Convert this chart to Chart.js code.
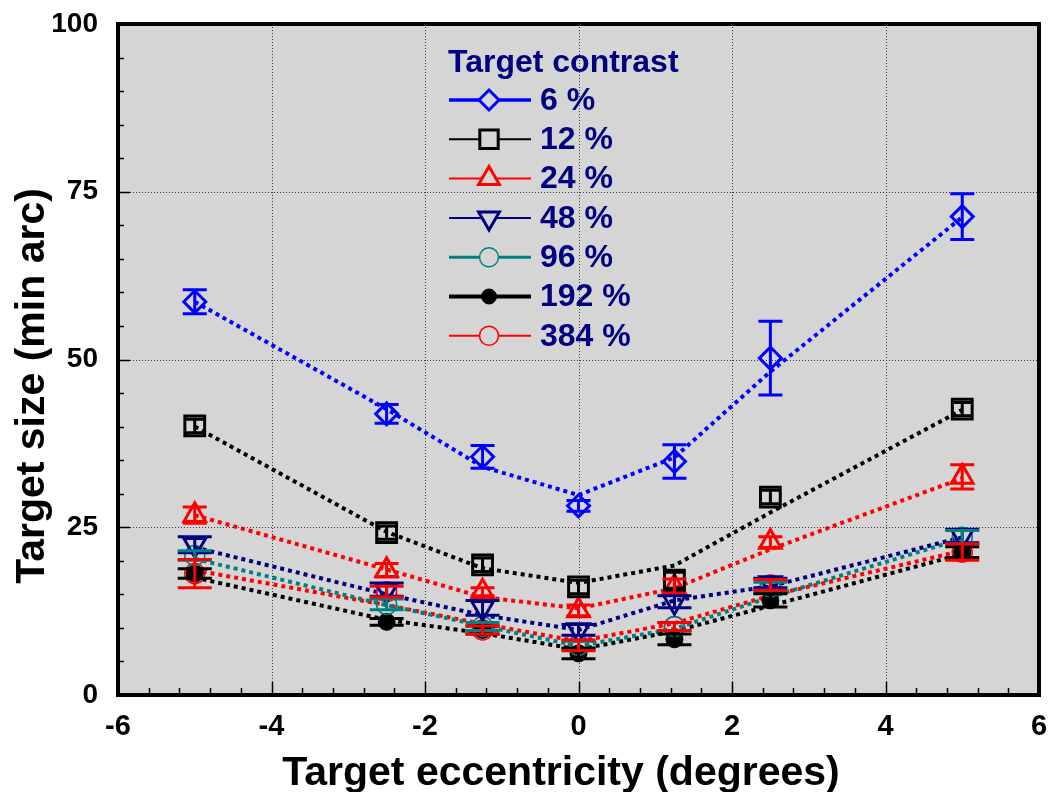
<!DOCTYPE html>
<html>
<head>
<meta charset="utf-8">
<script src="https://cdn.jsdelivr.net/npm/chart.js@4.4.0/dist/chart.umd.min.js"></script>
<style>
  html, body { margin: 0; padding: 0; background: #fff; }
  #wrap { width: 1056px; height: 792px; position: relative; }
</style>
</head>
<body>
<div id="wrap"><canvas id="chart"></canvas></div>
<script>
// eccentricity (degrees)
const ecc = [-5, -2.5, -1.25, 0, 1.25, 2.5, 5];

// measured target sizes (min arc), their error bars and the fitted curves
const c6 = [58.6, 41.9, 35.5, 28.2, 34.8, 50.2, 71.3];
const c6Err = [1.8, 1.4, 1.7, 0.8, 2.5, 5.5, 3.4];
const c6Fit = [58.6, 42.6, 34.0, 29.8, 35.4, 48.2, 71.2];

const c12 = [40.1, 24.2, 19.4, 16.1, 17.1, 29.5, 42.6];
const c12Err = [1.0, 1.0, 1.0, 1.0, 1.2, 1.0, 1.0];
const c12Fit = [40.0, 24.3, 18.9, 16.7, 19.3, 27.2, 42.5];

const c24 = [26.8, 18.6, 15.4, 12.6, 16.1, 22.8, 32.5];
const c24Err = [1.2, 1.0, 0.6, 0.8, 1.2, 0.8, 1.8];
const c24Fit = [26.8, 18.7, 14.6, 12.9, 15.9, 21.7, 32.3];

const c48 = [22.4, 15.7, 13.0, 9.7, 13.9, 16.7, 23.7];
const c48Err = [1.2, 1.0, 1.1, 0.8, 0.9, 0.7, 1.0];
const c48Fit = [22.0, 15.0, 11.9, 9.7, 14.1, 16.2, 23.5];

const c96 = [20.8, 13.5, 10.2, 7.4, 10.2, 16.1, 23.5];
const c96Err = [0.7, 0.8, 0.6, 0.6, 0.6, 0.7, 1.0];
const c96Fit = [20.3, 13.4, 10.3, 7.3, 9.9, 14.6, 23.3];

const c192 = [18.1, 10.9, 9.7, 6.2, 8.3, 14.1, 21.3];
const c192Err = [0.7, 0.5, 0.6, 0.8, 0.8, 1.0, 0.8];
const c192Fit = [17.5, 11.2, 9.2, 6.8, 9.5, 13.3, 21.0];

const c384 = [18.1, 15.4, 9.7, 7.4, 10.2, 16.4, 21.3];
const c384Err = [2.1, 0.8, 0.6, 0.8, 0.6, 0.8, 1.2];
const c384Fit = [18.6, 13.4, 10.6, 8.0, 10.7, 14.8, 21.5];

// axis ticks
const xTicks = [-6, -4, -2, 0, 2, 4, 6];
const yTicks = [0, 25, 50, 75, 100];
const xGrid = [-4, -2, 0, 2, 4];
const yGrid = [25, 50, 75];

const legendTitle = 'Target contrast';

// one entry per contrast: look of markers, error bars and fit line
const series = [
  { label: '6 %',   vals: c6,   err: c6Err,   fit: c6Fit,   color: '#0000ff', style: 'rectRot',  rot: 0,   r: 11,  bw: 3,   fill: false, cap: 12, legLw: 3.5, legR: 10 },
  { label: '12 %',  vals: c12,  err: c12Err,  fit: c12Fit,  color: '#000000', style: 'rect',     rot: 0,   r: 14,  bw: 3,   fill: false, cap: 10, legLw: 2,   legR: 13 },
  { label: '24 %',  vals: c24,  err: c24Err,  fit: c24Fit,  color: '#ff0000', style: 'triangle', rot: 0,   r: 12.5, bw: 3, fill: false, cap: 12, legLw: 2,   legR: 12 },
  { label: '48 %',  vals: c48,  err: c48Err,  fit: c48Fit,  color: '#000080', style: 'triangle', rot: 180, r: 12.5, bw: 3, fill: false, cap: 17, legLw: 2,   legR: 12 },
  { label: '96 %',  vals: c96,  err: c96Err,  fit: c96Fit,  color: '#008080', style: 'circle',   rot: 0,   r: 10,  bw: 1.5, fill: false, cap: 17, legLw: 3,   legR: 9.5 },
  { label: '192 %', vals: c192, err: c192Err, fit: c192Fit, color: '#000000', style: 'circle',   rot: 0,   r: 8.5, bw: 1,   fill: true,  cap: 17, legLw: 4,   legR: 7.5 },
  { label: '384 %', vals: c384, err: c384Err, fit: c384Fit, color: '#ff0000', style: 'circle',   rot: 0,   r: 10,  bw: 1.5, fill: false, cap: 17, legLw: 2,   legR: 9.5 }
];

const FONT = 'Arial, "Liberation Sans", Helvetica, sans-serif';
const pts = arr => ecc.map((e, i) => ({ x: e, y: arr[i] }));

const datasets = [];
series.forEach(s => {
  datasets.push({
    label: s.label + ' fit',
    data: pts(s.fit),
    showLine: true,
    borderColor: s.color,
    borderWidth: 4,
    borderDash: [4, 4],
    borderCapStyle: 'butt',
    pointRadius: 0,
    order: 2
  });
  datasets.push({
    label: s.label,
    data: pts(s.vals),
    showLine: false,
    pointStyle: s.style,
    rotation: s.rot,
    pointRadius: s.r,
    pointBorderWidth: s.bw,
    pointBorderColor: s.color,
    pointBackgroundColor: s.fill ? s.color : 'rgba(0,0,0,0)',
    order: 1
  });
});

// small marker painter for the legend
function drawMarker(ctx, s, x, y) {
  const r = s.legR;
  ctx.beginPath();
  if (s.style === 'rectRot') {
    ctx.moveTo(x - r, y); ctx.lineTo(x, y - r); ctx.lineTo(x + r, y); ctx.lineTo(x, y + r); ctx.closePath();
  } else if (s.style === 'rect') {
    const h = r * Math.SQRT1_2;
    ctx.rect(x - h, y - h, 2 * h, 2 * h);
  } else if (s.style === 'triangle') {
    const d = s.rot === 180 ? -1 : 1;
    ctx.moveTo(x, y - d * r);
    ctx.lineTo(x + r * 0.866, y + d * r / 2);
    ctx.lineTo(x - r * 0.866, y + d * r / 2);
    ctx.closePath();
  } else {
    ctx.arc(x, y, r, 0, Math.PI * 2);
  }
  ctx.fillStyle = s.fill ? s.color : '#d5d5d5';
  ctx.fill();
  ctx.lineWidth = s.bw;
  ctx.strokeStyle = s.color;
  ctx.stroke();
}

const plotDecor = {
  id: 'plotDecor',
  beforeDatasetsDraw(chart) {
    const { ctx, chartArea: a, scales: { x, y } } = chart;
    ctx.save();
    ctx.fillStyle = '#d5d5d5';
    ctx.fillRect(a.left, a.top, a.width, a.height);
    // dotted grid
    ctx.strokeStyle = '#3a3a3a';
    ctx.lineWidth = 1;
    ctx.setLineDash([1, 2]);
    xGrid.forEach(v => {
      const px = Math.round(x.getPixelForValue(v)) + 0.5;
      ctx.beginPath(); ctx.moveTo(px, a.top); ctx.lineTo(px, a.bottom); ctx.stroke();
    });
    yGrid.forEach(v => {
      const py = Math.round(y.getPixelForValue(v)) + 0.5;
      ctx.beginPath(); ctx.moveTo(a.left, py); ctx.lineTo(a.right, py); ctx.stroke();
    });
    ctx.restore();
  },
  afterDatasetsDraw(chart) {
    const { ctx, chartArea: a, scales: { x, y } } = chart;
    ctx.save();
    // error bars
    ctx.lineWidth = 3;
    series.forEach(s => {
      ctx.strokeStyle = s.color;
      ecc.forEach((e, i) => {
        const px = x.getPixelForValue(e);
        const top = y.getPixelForValue(s.vals[i] + s.err[i]);
        const bot = y.getPixelForValue(s.vals[i] - s.err[i]);
        ctx.beginPath();
        ctx.moveTo(px, top); ctx.lineTo(px, bot);
        ctx.moveTo(px - s.cap, top); ctx.lineTo(px + s.cap, top);
        ctx.moveTo(px - s.cap, bot); ctx.lineTo(px + s.cap, bot);
        ctx.stroke();
      });
    });

    // inward tick marks
    ctx.strokeStyle = '#000';
    ctx.lineWidth = 1.5;
    for (let k = 0; k <= 30; k++) {
      const v = -6 + k * 0.4;
      const px = Math.round(x.getPixelForValue(v)) + 0.5;
      const len = k % 5 === 0 ? 13 : 7;
      ctx.beginPath(); ctx.moveTo(px, a.bottom); ctx.lineTo(px, a.bottom - len); ctx.stroke();
    }
    for (let v = 0; v <= 100; v += 5) {
      const py = Math.round(y.getPixelForValue(v)) + 0.5;
      const len = v % 25 === 0 ? 12 : 6;
      ctx.beginPath(); ctx.moveTo(a.left, py); ctx.lineTo(a.left + len, py); ctx.stroke();
    }

    // frame
    ctx.lineWidth = 4;
    ctx.strokeRect(a.left, a.top, a.width, a.height);

    // legend inside the plot
    ctx.textBaseline = 'middle';
    ctx.textAlign = 'left';
    ctx.fillStyle = '#000080';
    ctx.font = 'bold 32px ' + FONT;
    ctx.fillText(legendTitle, 448, 63);
    ctx.font = 'bold 32px ' + FONT;
    series.forEach((s, i) => {
      const ly = 100 + i * 39.3;
      ctx.strokeStyle = s.color;
      ctx.lineWidth = s.legLw;
      ctx.beginPath(); ctx.moveTo(449, ly); ctx.lineTo(531, ly); ctx.stroke();
      drawMarker(ctx, s, 489, ly);
      ctx.fillStyle = '#000080';
      ctx.fillText(s.label, 540, ly + 1);
    });
    ctx.restore();
  },
  afterDraw(chart) {
    const { ctx } = chart;
    ctx.save();
    ctx.fillStyle = '#000';
    ctx.font = 'bold 41px ' + FONT;
    ctx.textAlign = 'center';
    ctx.textBaseline = 'alphabetic';
    ctx.fillText('Target eccentricity (degrees)', 561, 785);
    ctx.translate(44, 386);
    ctx.rotate(-Math.PI / 2);
    ctx.fillText('Target size (min arc)', 0, 0);
    ctx.restore();
  }
};

new Chart(document.getElementById('chart'), {
  type: 'scatter',
  data: { datasets },
  options: {
    responsive: true,
    maintainAspectRatio: false,
    animation: false,
    layout: { padding: { left: 0, right: 12, top: 24, bottom: 0 } },
    plugins: { legend: { display: false }, tooltip: { enabled: false } },
    scales: {
      x: {
        type: 'linear', min: -6, max: 6,
        afterBuildTicks: s => { s.ticks = xTicks.map(v => ({ value: v })); },
        afterFit: s => { s.height = 97; s.paddingLeft = 0; s.paddingRight = 0; },
        grid: { display: false, drawTicks: false },
        border: { display: false },
        ticks: { color: '#000', padding: 15, maxRotation: 0, font: { family: FONT, size: 29, weight: 'bold' } }
      },
      y: {
        type: 'linear', min: 0, max: 100,
        afterBuildTicks: s => { s.ticks = yTicks.map(v => ({ value: v })); },
        afterFit: s => { s.width = 118; s.paddingTop = 0; s.paddingBottom = 0; },
        grid: { display: false, drawTicks: false },
        border: { display: false },
        ticks: { color: '#000', padding: 20, font: { family: FONT, size: 28, weight: 'bold' } }
      }
    }
  },
  plugins: [plotDecor]
});
</script>
</body>
</html>
